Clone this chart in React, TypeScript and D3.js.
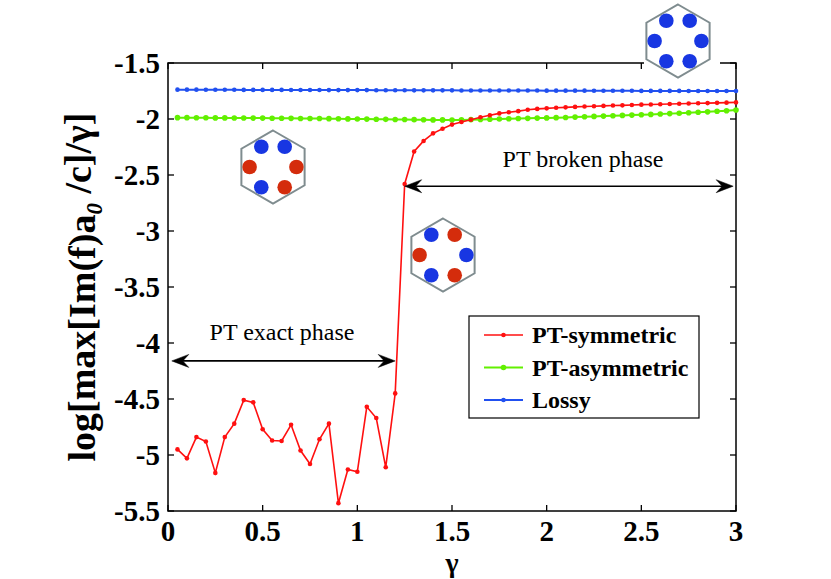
import * as d3 from 'd3';
import React from 'react';

// gamma sampled every 0.05
const gammas = [
	0.05, 0.1, 0.15, 0.2, 0.25, 0.3, 0.35, 0.4, 0.45, 0.5,
	0.55, 0.6, 0.65, 0.7, 0.75, 0.8, 0.85, 0.9, 0.95, 1.0,
	1.05, 1.1, 1.15, 1.2, 1.25, 1.3, 1.35, 1.4, 1.45, 1.5,
	1.55, 1.6, 1.65, 1.7, 1.75, 1.8, 1.85, 1.9, 1.95, 2.0,
	2.05, 2.1, 2.15, 2.2, 2.25, 2.3, 2.35, 2.4, 2.45, 2.5,
	2.55, 2.6, 2.65, 2.7, 2.75, 2.8, 2.85, 2.9, 2.95, 3.0,
];

const ptSymmetric = [
	-4.95, -5.03, -4.84, -4.88, -5.16, -4.84, -4.72, -4.51, -4.53, -4.77,
	-4.87, -4.875, -4.73, -4.96, -5.08, -4.86, -4.72, -5.43, -5.13, -5.15,
	-4.57, -4.67, -5.11, -4.45, -2.58, -2.29, -2.196, -2.128, -2.087, -2.05,
	-2.027, -2.006, -1.985, -1.967, -1.95, -1.94, -1.93, -1.917, -1.91, -1.905,
	-1.9, -1.896, -1.892, -1.889, -1.886, -1.883, -1.88, -1.878, -1.875, -1.872,
	-1.87, -1.868, -1.866, -1.864, -1.862, -1.86, -1.858, -1.856, -1.854, -1.852,
];

const ptAsymmetric = [
	-1.988, -1.988, -1.989, -1.989, -1.99, -1.99, -1.991, -1.991, -1.992, -1.992,
	-1.993, -1.993, -1.994, -1.995, -1.995, -1.996, -1.997, -1.998, -1.999, -2.0,
	-2.001, -2.002, -2.003, -2.004, -2.005, -2.006, -2.007, -2.008, -2.008, -2.009,
	-2.008, -2.006, -2.004, -2.002, -2.0, -1.998, -1.996, -1.994, -1.992, -1.99,
	-1.988, -1.986, -1.983, -1.98, -1.977, -1.974, -1.971, -1.968, -1.965, -1.962,
	-1.959, -1.956, -1.952, -1.948, -1.944, -1.94, -1.936, -1.931, -1.926, -1.92,
];

const lossy = [
	-1.738, -1.738, -1.738, -1.739, -1.739, -1.739, -1.739, -1.74, -1.74, -1.74,
	-1.74, -1.74, -1.741, -1.741, -1.741, -1.741, -1.742, -1.742, -1.742, -1.742,
	-1.742, -1.743, -1.743, -1.743, -1.743, -1.744, -1.744, -1.744, -1.744, -1.744,
	-1.745, -1.745, -1.745, -1.745, -1.746, -1.746, -1.746, -1.746, -1.746, -1.747,
	-1.747, -1.747, -1.747, -1.747, -1.748, -1.748, -1.748, -1.748, -1.748, -1.749,
	-1.749, -1.749, -1.749, -1.749, -1.75, -1.75, -1.75, -1.75, -1.75, -1.75,
];

const xTicks = [0, 0.5, 1, 1.5, 2, 2.5, 3];
const yTicks = [-1.5, -2, -2.5, -3, -3.5, -4, -4.5, -5, -5.5];

const seriesNames = ['PT-symmetric', 'PT-asymmetric', 'Lossy'];

// circle colours of the hexagon sketches, order: TL, TR, L, R, BL, BR
const hexExact = ['b', 'b', 'r', 'r', 'b', 'r'];
const hexBroken = ['b', 'r', 'r', 'b', 'b', 'r'];
const hexLossy = ['b', 'b', 'b', 'b', 'b', 'b'];

const width = 831;
const height = 579;
const margin = {top: 63, right: 95, bottom: 68, left: 168};
const font = 'Liberation Serif';

const RED = '#ff1010';
const GREEN = '#62f000';
const BLUE = '#2150f0';

const x = d3.scaleLinear().domain([0, 3]).range([margin.left, width - margin.right]);
const y = d3.scaleLinear().domain([-5.5, -1.5]).range([height - margin.bottom, margin.top]);

const line = d3.line<number>()
	.x((_, i) => x(gammas[i]))
	.y(d => y(d));

const series = [
	{name: seriesNames[0], values: ptSymmetric, color: RED, r: 2.3, w: 1.6},
	{name: seriesNames[1], values: ptAsymmetric, color: GREEN, r: 2.8, w: 2},
	{name: seriesNames[2], values: lossy, color: BLUE, r: 2.3, w: 2},
];

const Hexagon = ({cx, cy, colors}: {cx: number, cy: number, colors: string[]}) => {
	const R = 36.5;
	const pts = d3.range(6).map(k => {
		const a = -Math.PI / 2 + k * Math.PI / 3;
		return [cx + R * Math.cos(a), cy + R * Math.sin(a)];
	});
	const angles = [-120, -60, 180, 0, 120, 60];
	return (
		<g>
			<polygon points={pts.map(p => p.join(',')).join(' ')} fill="white" stroke="#7f8c8f" strokeWidth={2} />
			{angles.map((a, i) => (
				<circle key={i}
					cx={cx + 23.4 * Math.cos(a * Math.PI / 180)}
					cy={cy + 23.4 * Math.sin(a * Math.PI / 180)}
					r={7.3}
					fill={colors[i] === 'b' ? '#1836e2' : '#d42c0c'} />
			))}
		</g>
	);
};

const Arrow = ({x1, x2, yy}: {x1: number, x2: number, yy: number}) => {
	const L = 17, H = 6.5, N = 11;
	return (
		<g fill="black" stroke="black">
			<line x1={x1 + N} x2={x2 - N} y1={yy} y2={yy} strokeWidth={1.6} />
			<path d={`M${x1},${yy} L${x1 + L},${yy - H} L${x1 + N},${yy} L${x1 + L},${yy + H} Z`} strokeWidth={0.5} />
			<path d={`M${x2},${yy} L${x2 - L},${yy - H} L${x2 - N},${yy} L${x2 - L},${yy + H} Z`} strokeWidth={0.5} />
		</g>
	);
};

export default function App() {
	const x0 = margin.left, x1 = width - margin.right;
	const y0 = height - margin.bottom, y1 = margin.top;
	const tickLen = 6;
	return (
		<svg width={width} height={height} style={{position: 'absolute', left: 0, top: 0, background: 'white', fontFamily: font}}>
			<rect width={width} height={height} fill="white" />

			{/* frame and ticks */}
			<rect x={x0} y={y1} width={x1 - x0} height={y0 - y1} fill="none" stroke="black" strokeWidth={1.5} />
			{xTicks.map(t => (
				<g key={'x' + t}>
					<line x1={x(t)} x2={x(t)} y1={y0} y2={y0 - tickLen} stroke="black" strokeWidth={1.3} />
					<line x1={x(t)} x2={x(t)} y1={y1} y2={y1 + tickLen} stroke="black" strokeWidth={1.3} />
					<text x={x(t)} y={y0 + 30} textAnchor="middle" fontSize={29} fontWeight="bold">{t}</text>
				</g>
			))}
			{yTicks.map(t => (
				<g key={'y' + t}>
					<line x1={x0} x2={x0 + tickLen} y1={y(t)} y2={y(t)} stroke="black" strokeWidth={1.3} />
					<line x1={x1} x2={x1 - tickLen} y1={y(t)} y2={y(t)} stroke="black" strokeWidth={1.3} />
					<text x={x0 - 8} y={y(t)} dy="0.35em" textAnchor="end" fontSize={29} fontWeight="bold">{t}</text>
				</g>
			))}

			{/* series */}
			{series.slice().reverse().map(s => (
				<g key={s.name}>
					<path d={line(s.values) ?? ''} fill="none" stroke={s.color} strokeWidth={s.w} />
					{s.values.map((v, i) => (
						<circle key={i} cx={x(gammas[i])} cy={y(v)} r={s.r} fill={s.color} />
					))}
				</g>
			))}

			{/* phase arrows */}
			<Arrow x1={x(0.02)} x2={x(1.2)} yy={y(-4.16)} />
			<text x={282} y={340} textAnchor="middle" fontSize={24}>PT exact phase</text>
			<Arrow x1={x(1.25)} x2={x(2.985)} yy={y(-2.6)} />
			<text x={583} y={167} textAnchor="middle" fontSize={24}>PT broken phase</text>

			{/* sketches */}
			<Hexagon cx={273} cy={167} colors={hexExact} />
			<Hexagon cx={443} cy={255} colors={hexBroken} />
			<rect x={644} y={0} width={76} height={80} fill="white" />
			<Hexagon cx={678} cy={41} colors={hexLossy} />

			{/* legend */}
			<rect x={469} y={316} width={230} height={102} fill="white" stroke="black" strokeWidth={1.2} />
			{series.map((s, i) => (
				<g key={s.name} transform={`translate(0,${335 + i * 32.5})`}>
					<line x1={484} x2={523} y1={0} y2={0} stroke={s.color} strokeWidth={s.w} />
					<circle cx={503.5} cy={0} r={s.r} fill={s.color} />
					<text x={532} y={0} dy="0.35em" fontSize={24} fontWeight="bold">{s.name}</text>
				</g>
			))}

			{/* axis labels */}
			<text x={452} y={572} textAnchor="middle" fontSize={28} fontWeight="bold">γ</text>
			<text transform={`translate(95,${(y0 + y1) / 2}) rotate(-90)`} textAnchor="middle" fontSize={38} fontWeight="bold">
				log[max[Im(f)a<tspan fontSize={23} fontStyle="italic" dy="0.3em">0</tspan><tspan dy="-0.3em"> /c]/γ]</tspan>
			</text>
		</svg>
	);
}
